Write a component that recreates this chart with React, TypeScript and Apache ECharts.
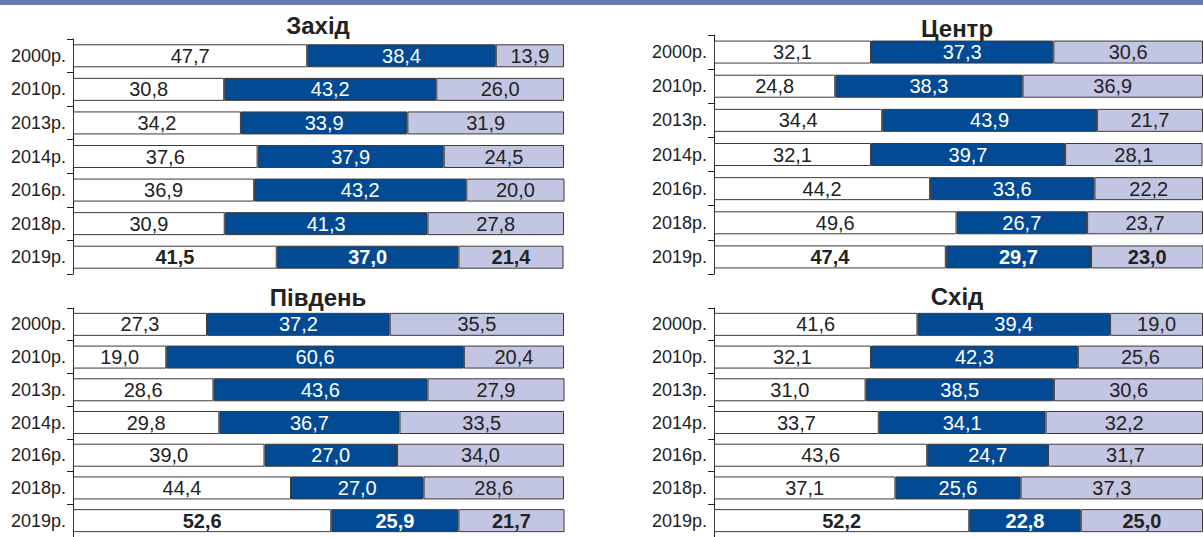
import React, { useEffect, useRef } from "react";
import * as echarts from "echarts";

const years = ["2000р.", "2010р.", "2013р.", "2014р.", "2016р.", "2018р.", "2019р."];
const titles = ["Захід", "Центр", "Південь", "Схід"];

// columns: first (white), second (blue), third (lavender)
const westA = [47.7, 30.8, 34.2, 37.6, 36.9, 30.9, 41.5];
const westB = [38.4, 43.2, 33.9, 37.9, 43.2, 41.3, 37.0];
const westC = [13.9, 26.0, 31.9, 24.5, 20.0, 27.8, 21.4];

const centerA = [32.1, 24.8, 34.4, 32.1, 44.2, 49.6, 47.4];
const centerB = [37.3, 38.3, 43.9, 39.7, 33.6, 26.7, 29.7];
const centerC = [30.6, 36.9, 21.7, 28.1, 22.2, 23.7, 23.0];

const southA = [27.3, 19.0, 28.6, 29.8, 39.0, 44.4, 52.6];
const southB = [37.2, 60.6, 43.6, 36.7, 27.0, 27.0, 25.9];
const southC = [35.5, 20.4, 27.9, 33.5, 34.0, 28.6, 21.7];

const eastA = [41.6, 32.1, 31.0, 33.7, 43.6, 37.1, 52.2];
const eastB = [39.4, 42.3, 38.5, 34.1, 24.7, 25.6, 22.8];
const eastC = [19.0, 25.6, 30.6, 32.2, 31.7, 37.3, 25.0];

const panels = [
  [westA, westB, westC],
  [centerA, centerB, centerC],
  [southA, southB, southC],
  [eastA, eastB, eastC],
];

const FONT = "'Liberation Sans', Arial, sans-serif";
const colors = ["#ffffff", "#034a94", "#c3c6e2"];
const labelColors = ["#222222", "#ffffff", "#222222"];

const grids = [
  { left: 73, top: 39, width: 491, height: 235 },
  { left: 714, top: 35, width: 491, height: 239 },
  { left: 73, top: 308, width: 491, height: 235 },
  { left: 714, top: 308, width: 491, height: 235 },
];
const titlePos = [
  { x: 318, y: 25 },
  { x: 957, y: 28 },
  { x: 318, y: 297 },
  { x: 957, y: 296 },
];

export default function App() {
  const ref = useRef<HTMLDivElement>(null);
  useEffect(() => {
    if (!ref.current) return;
    const chart = echarts.init(ref.current, undefined, { renderer: "svg" });
    const series: any[] = [];
    panels.forEach((cols, p) => {
      cols.forEach((vals, c) => {
        series.push({
          type: "bar",
          stack: "s" + p,
          xAxisIndex: p,
          yAxisIndex: p,
          barWidth: 23,
          itemStyle: { color: colors[c], borderColor: "#3a3a3a", borderWidth: 1 },
          label: {
            show: true,
            position: "inside",
            color: labelColors[c],
            fontFamily: FONT,
            fontSize: 20,
            formatter: (d: any) => Number(d.value).toFixed(1).replace(".", ","),
          },
          data: vals.map((v, i) =>
            i === years.length - 1 ? { value: v, label: { fontWeight: "bold" } } : v
          ),
        });
      });
    });
    chart.setOption({
      animation: false,
      grid: grids,
      xAxis: grids.map((_, i) => ({
        type: "value",
        gridIndex: i,
        min: 0,
        max: 100,
        show: false,
      })),
      yAxis: grids.map((_, i) => ({
        type: "category",
        gridIndex: i,
        data: years,
        inverse: true,
        axisLine: { show: true, lineStyle: { color: "#222", width: 1 } },
        axisTick: { show: true, length: 6, lineStyle: { color: "#222" } },
        axisLabel: { color: "#222", fontFamily: FONT, fontSize: 18, margin: 7 },
      })),
      graphic: [
        { type: "rect", shape: { x: 0, y: 0, width: 1203, height: 5 }, style: { fill: "#6579b3" } },
        ...titles.map((t, i) => ({
          type: "text",
          x: titlePos[i].x,
          y: titlePos[i].y,
          style: {
            text: t,
            fill: "#222",
            font: `bold 24px ${FONT}`,
            textAlign: "center",
            textVerticalAlign: "middle",
          },
        })),
      ],
      series,
    });
    return () => chart.dispose();
  }, []);
  return (
    <div
      ref={ref}
      style={{ position: "fixed", left: 0, top: 0, width: 1203, height: 537, background: "#fff" }}
    />
  );
}
